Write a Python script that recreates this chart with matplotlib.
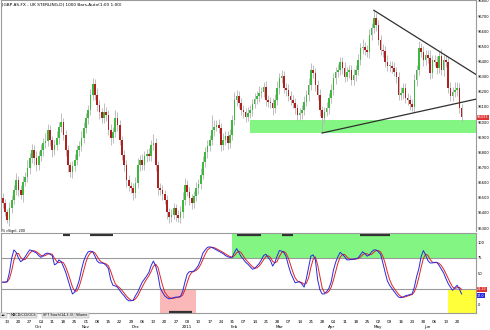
import numpy as np
import pandas as pd
import matplotlib
matplotlib.use("Agg")
import matplotlib.pyplot as plt
from matplotlib.transforms import blended_transform_factory as blend

# daily bars, GBP index
dates = pd.bdate_range("2010-09-09", "2011-06-22")
first_open = 95500
closes = [
    95466, 95407, 95354, 95433, 95486, 95552, 95618, 95552, 95519, 95605,
    95638, 95697, 95763, 95816, 95763, 95717, 95776, 95816, 95862, 95875,
    95948, 95882, 95816, 95849, 95895, 95968, 96001, 95915, 95816, 95717,
    95671, 95710, 95750, 95816, 95842, 95895, 95961, 96027, 96080, 96179,
    96252, 96179, 96113, 96067, 96027, 96067, 96047, 95948, 95895, 95935,
    96027, 95981, 95882, 95783, 95717, 95618, 95578, 95565, 95532, 95598,
    95717, 95750, 95717, 95776, 95790, 95776, 95849, 95862, 95717, 95565,
    95552, 95526, 95486, 95407, 95374, 95387, 95433, 95387, 95367, 95407,
    95486, 95585, 95539, 95499, 95466, 95512, 95565, 95592, 95651, 95737,
    95803, 95842, 95882, 95948, 95968, 95981, 95961, 95849, 95882, 95908,
    95862, 95915, 96014, 96146, 96172, 96126, 96080, 96067, 96034, 96060,
    96080, 96120, 96153, 96172, 96192, 96199, 96232, 96146, 96133, 96126,
    96093, 96146, 96225, 96291, 96304, 96225, 96212, 96172, 96146, 96126,
    96093, 96047, 96060, 96080, 96133, 96179, 96245, 96344, 96324, 96245,
    96179, 96080, 96027, 96067, 96093, 96159, 96212, 96291, 96331, 96344,
    96397, 96357, 96298, 96331, 96344, 96278, 96311, 96344, 96410, 96489,
    96496, 96476, 96463, 96575, 96621, 96687, 96641, 96542, 96476, 96469,
    96397, 96370, 96370, 96357, 96331, 96298, 96179, 96192, 96225, 96159,
    96146, 96120, 96100, 96278, 96344, 96489, 96463, 96410, 96443, 96423,
    96324, 96410, 96397, 96357, 96436, 96344, 96410, 96397, 96225, 96172,
    96199, 96212, 96225, 96093, 96033,
]
upper_wick = [
    30, 25, 20, 40, 35, 30, 45, 25, 30, 40,
    35, 50, 30, 40, 30, 45, 35, 40, 30, 50,
    40, 30, 25, 35, 45, 30, 60, 25, 30, 35,
    20, 30, 40, 35, 30, 45, 40, 35, 30, 40,
    40, 30, 45, 35, 25, 60, 30, 35, 40, 30,
    55, 40, 30, 25, 30, 35, 30, 25, 30, 40,
    45, 35, 40, 30, 35, 40, 35, 60, 30, 25,
    30, 35, 25, 30, 25, 40, 30, 25, 35, 40,
    50, 45, 30, 35, 25, 30, 40, 35, 45, 40,
    35, 40, 30, 100, 45, 35, 40, 30, 45, 35,
    30, 40, 35, 50, 40, 30, 35, 30, 25, 40,
    35, 30, 40, 35, 45, 30, 35, 40, 30, 35,
    30, 40, 45, 35, 40, 30, 35, 40, 30, 35,
    30, 25, 35, 30, 40, 35, 45, 45, 30, 35,
    30, 40, 25, 35, 40, 35, 40, 30, 35, 40,
    30, 35, 40, 30, 35, 30, 40, 35, 40, 35,
    50, 30, 35, 40, 35, 55, 30, 35, 30, 40,
    35, 45, 30, 35, 40, 30, 35, 40, 30, 35,
    30, 35, 30, 40, 35, 45, 30, 40, 35, 30,
    50, 35, 30, 40, 35, 45, 30, 35, 30, 40,
    35, 50, 40, 30, 25,
]
lower_wick = [
    35, 30, 20, 40, 30, 25, 35, 40, 30, 45,
    30, 35, 40, 30, 45, 40, 35, 30, 40, 35,
    30, 40, 45, 35, 30, 40, 35, 30, 40, 45,
    35, 40, 30, 35, 40, 30, 35, 30, 40, 35,
    30, 35, 40, 45, 35, 30, 40, 35, 45, 30,
    35, 40, 30, 35, 40, 45, 35, 30, 45, 35,
    30, 40, 35, 30, 40, 35, 30, 35, 40, 45,
    35, 40, 30, 45, 40, 35, 30, 40, 25, 35,
    40, 35, 30, 45, 40, 35, 30, 40, 35, 30,
    35, 40, 30, 35, 40, 30, 35, 40, 35, 30,
    40, 35, 30, 35, 40, 30, 35, 40, 35, 30,
    35, 40, 30, 35, 40, 30, 35, 40, 35, 30,
    45, 35, 30, 40, 35, 30, 40, 35, 30, 35,
    40, 35, 30, 40, 35, 30, 40, 35, 30, 40,
    35, 40, 100, 35, 30, 40, 35, 30, 40, 35,
    30, 40, 35, 30, 40, 35, 30, 40, 35, 30,
    40, 35, 30, 40, 35, 30, 40, 35, 30, 40,
    35, 30, 40, 35, 30, 40, 35, 30, 40, 35,
    30, 40, 30, 35, 40, 30, 35, 40, 30, 35,
    40, 35, 30, 40, 35, 30, 40, 35, 30, 35,
    30, 35, 40, 35, 30,
]
# SFT stochastic %K
stoch_k = [
    36, 36, 37, 52, 75, 88, 84, 75, 69, 72,
    77, 83, 88, 87, 85, 83, 79, 76, 79, 82,
    83, 81, 79, 64, 66, 72, 69, 61, 52, 40,
    28, 17, 20, 28, 39, 56, 70, 79, 85, 86,
    85, 78, 70, 67, 67, 66, 63, 58, 40, 31,
    30, 28, 23, 18, 14, 9, 6, 6, 7, 14,
    20, 28, 36, 41, 46, 52, 63, 70, 62, 48,
    27, 20, 14, 11, 9, 10, 11, 12, 12, 13,
    21, 36, 49, 53, 53, 54, 58, 63, 72, 83,
    88, 92, 93, 92, 90, 88, 86, 84, 82, 79,
    77, 76, 76, 84, 90, 84, 77, 73, 68, 65,
    61, 57, 58, 62, 66, 72, 79, 81, 76, 71,
    62, 68, 78, 87, 86, 84, 77, 63, 51, 43,
    35, 36, 37, 33, 28, 42, 60, 78, 80, 72,
    40, 24, 17, 17, 21, 26, 36, 55, 68, 77,
    84, 81, 77, 72, 72, 73, 73, 74, 75, 80,
    85, 82, 78, 80, 85, 88, 88, 85, 81, 67,
    52, 38, 31, 26, 21, 16, 12, 11, 12, 14,
    15, 16, 17, 28, 45, 58, 77, 87, 80, 71,
    67, 67, 68, 68, 63, 57, 51, 42, 34, 28,
    23, 27, 31, 25, 17,
]

support_zone = (95930, 96015)
support_start = "2011-02-10"
upper_line = [("2011-04-28", 96738), ("2011-06-14", 96430)]
lower_line = [("2011-03-28", 95928), ("2011-06-14", 96111)]
osc_green_start = "2011-01-31"
osc_pink = ("2010-12-16", "2011-01-07")
osc_yellow_start = "2011-06-14"
top_marks = [("2010-10-18", "2010-10-21"), ("2010-11-03", "2010-11-17"),
             ("2011-02-02", "2011-02-17"), ("2011-03-02", "2011-03-09"),
             ("2011-04-20", "2011-05-09")]
bottom_marks = [("2010-12-22", "2011-01-05")]

title = "|GBP AS-FX - UK STERLING,D| 1000 Bars,Auto(1:00 1:00)"


def idx(d):
    return dates.get_loc(pd.Timestamp(d))


W, H = 490, 330
fig = plt.figure(figsize=(4.9, 3.3), dpi=100)
ax1 = fig.add_axes([1 / W, 1 - 231 / H, 475 / W, 231 / H])
ax2 = fig.add_axes([1 / W, 1 - 313 / H, 475 / W, 80 / H])
XL = (-0.76, 210.4)
grey = "#9a9a9a"
fs = 2.6

# ---- price panel
x = np.arange(len(closes))
c = np.array(closes, float)
o = np.r_[first_open, c[:-1]]
hi = np.maximum(o, c) + np.array(upper_wick)
lo = np.minimum(o, c) - np.array(lower_wick)
up = c >= o
ax1.fill_between([idx(support_start), XL[1]], *support_zone, color="#82f582", lw=0, zorder=0)
ax1.vlines(x, lo, hi, color="#b4b4b4", lw=0.6, zorder=1)
ax1.bar(x, np.maximum(np.abs(c - o), 5), bottom=np.minimum(o, c), width=0.75,
        color=np.where(up, "#3cb83c", "#b0201f"), lw=0, zorder=2)

for line in (upper_line, lower_line):
    (d0, p0), (d1, p1) = line
    i0, i1 = idx(d0), idx(d1)
    slope = (p1 - p0) / (i1 - i0)
    ax1.plot([i0, XL[1]], [p0, p0 + slope * (XL[1] - i0)], color="#303030", lw=0.9, zorder=3)

ax1.set_xlim(*XL)
ax1.set_ylim(95281, 96806)
ax1.yaxis.tick_right()
ax1.set_yticks(range(95300, 96801, 100))
ax1.tick_params(axis="y", labelsize=fs, length=1, width=0.4, pad=0.5, color=grey)
ax1.set_xticks([])
for s in ("left", "right", "top"):
    ax1.spines[s].set_color(grey)
    ax1.spines[s].set_linewidth(0.8)
ax1.spines["bottom"].set_visible(False)
ax1.text(1.002, closes[-1], str(closes[-1]), transform=blend(ax1.transAxes, ax1.transData),
         fontsize=fs, color="white", va="center", ha="left", zorder=5,
         bbox=dict(fc="#e03434", ec="none", pad=0.3))
fig.text(2 / W, 1 - 4 / H, title, fontsize=3.1, va="center", ha="left")
fig.text(2 / W, 1 - 231 / H, "% cSignl, 200", fontsize=2.4, va="center", ha="left")

# ---- stochastic panel
k = pd.Series(stoch_k, dtype=float)
d = k.rolling(3, min_periods=1).mean()
YL = (-13.7, 115.3)
ax2.fill_between([idx(osc_green_start), XL[1]], 75, YL[1], color="#82f582", lw=0, zorder=0)
ax2.fill_between([idx(osc_pink[0]), idx(osc_pink[1])], YL[0], 25, color="#fbb8b8", lw=0, zorder=0)
ax2.fill_between([idx(osc_yellow_start), XL[1]], YL[0], 25, color="#ffff3a", lw=0, zorder=0)
for lvl in (75, 25):
    ax2.axhline(lvl, color=grey, lw=0.8, zorder=1)
for a, b in top_marks:
    ax2.hlines(112.5, idx(a), idx(b), color="#303030", lw=1.6, zorder=2)
for a, b in bottom_marks:
    ax2.hlines(-12, idx(a), idx(b), color="#303030", lw=1.6, zorder=2)
ax2.plot(x, d, color="#e02424", lw=0.7, zorder=3)
ax2.plot(x, k, color="#2828e0", lw=0.7, zorder=4)
ax2.set_xlim(*XL)
ax2.set_ylim(*YL)
ax2.yaxis.tick_right()
ax2.set_yticks([0, 50, 75, 100])
ax2.tick_params(axis="y", labelsize=fs, length=1, width=0.4, pad=0.5, color=grey)
for s in ax2.spines.values():
    s.set_color(grey)
    s.set_linewidth(0.8)
tr = blend(ax2.transAxes, ax2.transData)
ax2.text(1.002, d.iloc[-1], f"{d.iloc[-1]:.2f}", transform=tr, fontsize=2.4, color="white",
         va="center", ha="left", bbox=dict(fc="#e03434", ec="none", pad=0.3))
ax2.text(1.002, k.iloc[-1] - 3, f"{k.iloc[-1]:.1f}", transform=tr, fontsize=2.4, color="white",
         va="center", ha="left", bbox=dict(fc="#2828e0", ec="none", pad=0.3))

# date axis
mondays = [i for i, t in enumerate(dates) if t.weekday() == 0]
ax2.set_xticks(mondays, [dates[i].strftime("%d") for i in mondays])
ax2.tick_params(axis="x", labelsize=3, length=0, pad=5)
trx = blend(ax2.transData, ax2.transAxes)
months = pd.Series(range(len(dates)), index=dates).groupby(dates.to_period("M")).first()
for per, i in months.items():
    if i == 0:
        continue
    name = "2011" if per.month == 1 else per.strftime("%b")
    ax2.text(i, -0.175, name, transform=trx, fontsize=3, ha="center", va="center")

# indicator tabs
tabs = [("\u25c4\u25ba", 1), ("MACD/CCI/OCS", 11), ("SFT Stoch(14,3,3)", 43), ("Volume", 76)]
for label, px in tabs:
    fig.text(px / W, 1 - 315.5 / H, label, fontsize=2.4, va="center", ha="left",
             bbox=dict(fc="#e6e6e6", ec=grey, lw=0.3, pad=0.4))

fig.savefig("out.png", dpi=100)
